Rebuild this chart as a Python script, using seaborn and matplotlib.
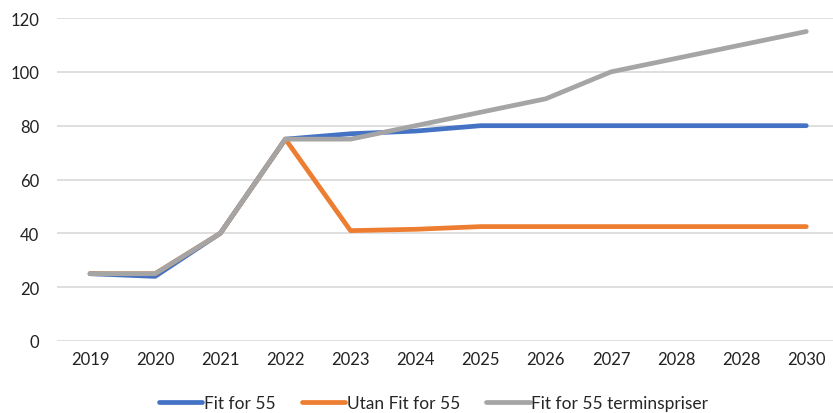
import numpy as np
import pandas as pd
import matplotlib.pyplot as plt
import seaborn as sns

years = ["2019", "2020", "2021", "2022", "2023", "2024", "2025", "2026", "2027", "2028", "2028", "2030"]
fit55 = [25, 24, 40, 75, 77, 78, 80, 80, 80, 80, 80, 80]
utan_fit55 = [25, 25, 40, 75, 41, 41.5, 42.5, 42.5, 42.5, 42.5, 42.5, 42.5]
fit55_termin = [25, 25, 40, 75, 75, 80, 85, 90, 100, 105, 110, 115]
series_names = ["Fit for 55", "Utan Fit for 55", "Fit for 55 terminspriser"]
colors = ["#4472C4", "#ED7D31", "#A5A5A5"]

pos = np.arange(len(years))
data = pd.concat([
    pd.DataFrame({"pos": pos, "value": vals, "serie": name})
    for name, vals in zip(series_names, [fit55, utan_fit55, fit55_termin])
])

sns.set_style("white")
plt.rcParams["font.family"] = ["Lato", "DejaVu Sans"]

fig = plt.figure(figsize=(8.33, 4.14), dpi=100)
ax = fig.add_axes([0.069, 0.174, 0.931, 0.78])

sns.lineplot(data=data, x="pos", y="value", hue="serie", palette=colors,
             linewidth=3.4, ax=ax, legend=True)

ax.set_xlim(-0.5, 11.41)
ax.set_ylim(0, 120)
ax.set_yticks(range(0, 121, 20))
ax.set_xticks(pos)
ax.set_xticklabels(years)
ax.tick_params(axis="both", length=0, labelsize=12, colors="#222222")
ax.tick_params(axis="y", pad=13)
ax.tick_params(axis="x", pad=7)
ax.yaxis.grid(True, color="#D9D9D9", linewidth=1.2)
ax.set_axisbelow(True)
for s in ax.spines.values():
    s.set_visible(False)
ax.set_xlabel("")
ax.set_ylabel("")

handles, labels = ax.get_legend_handles_labels()
ax.legend(handles, labels, loc="lower center", bbox_to_anchor=(0.485, -0.265),
          ncol=3, frameon=False, fontsize=12.5, handlelength=2.5,
          handletextpad=0.1, columnspacing=1.5)

fig.savefig("out.png", dpi=100)
